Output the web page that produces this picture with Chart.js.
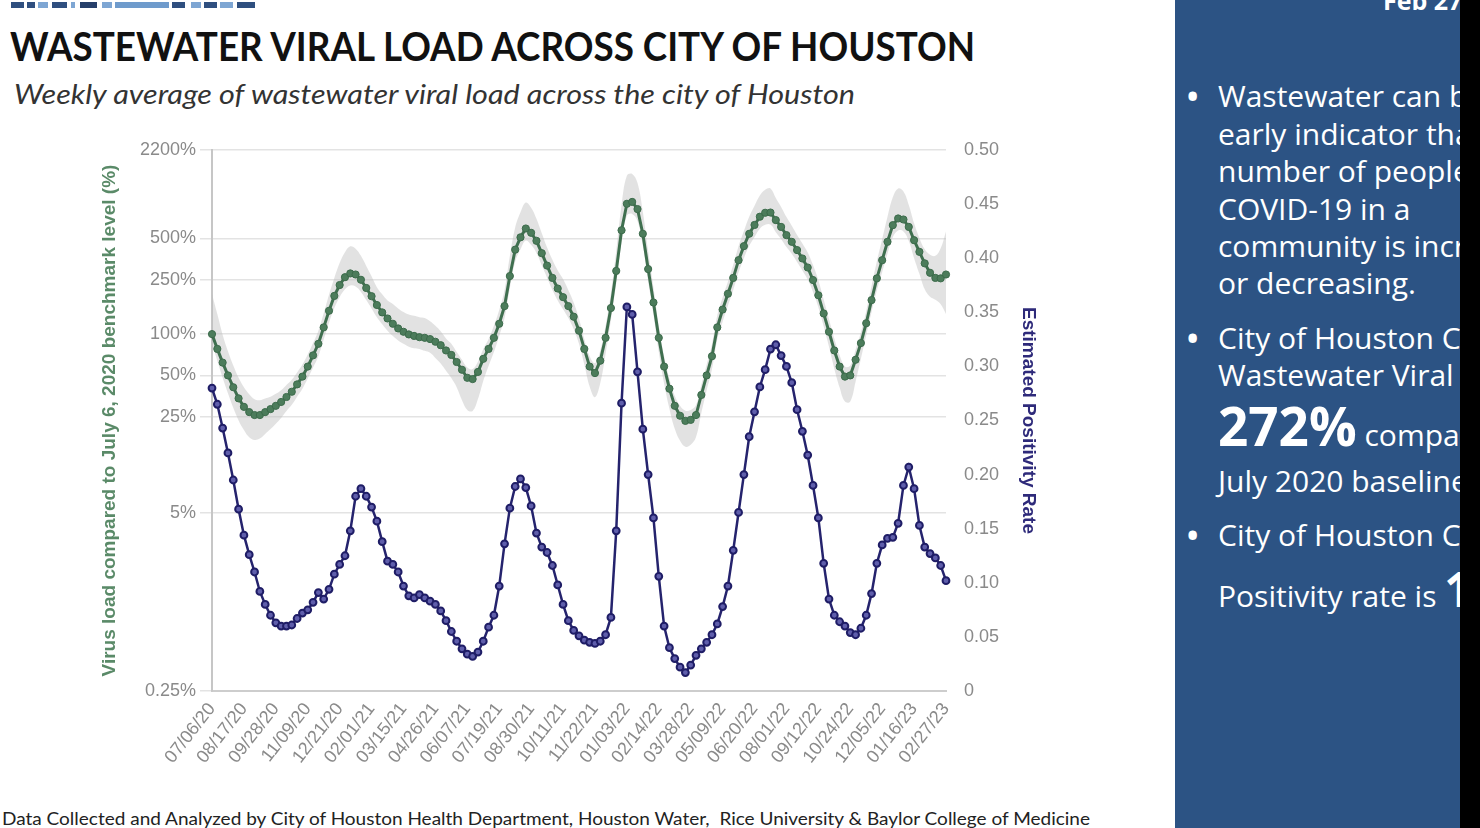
<!DOCTYPE html>
<html><head><meta charset="utf-8">
<script src="https://cdn.jsdelivr.net/npm/chart.js@4.4.1/dist/chart.umd.min.js"></script>
<style>
html,body{margin:0;padding:0;}
body{width:1480px;height:828px;overflow:hidden;background:#fff;position:relative;font-family:Lato,"Noto Sans",sans-serif;}
.t{position:absolute;white-space:nowrap;transform-origin:0 0;}
#title{left:10px;top:26px;font-size:40px;line-height:40px;font-weight:700;color:#111;}
#subtitle{left:14px;top:80px;font-size:27px;line-height:27px;font-style:italic;color:#333;}
#footer{left:2px;top:810px;font-size:17px;line-height:17px;color:#222;}
#chartBox{position:absolute;left:0;top:120px;width:1060px;height:680px;}
#panel{position:absolute;left:1175px;top:0;width:285px;height:828px;background:#2c5384;overflow:hidden;color:#fff;font-family:"Open Sans",Lato,sans-serif;}
#strip{position:absolute;left:1460px;top:0;width:20px;height:828px;background:#000;}
.pl{position:absolute;left:43px;white-space:nowrap;font-size:30px;line-height:30px;}
.bu{position:absolute;left:12px;font-size:30px;line-height:30px;font-weight:700;}
.deco{position:absolute;top:2px;height:6px;}
</style></head>
<body>
<div class="deco" style="left:11px;width:13px;background:#2f4f7f"></div>
<div class="deco" style="left:27px;width:8px;background:#2f4f7f"></div>
<div class="deco" style="left:38px;width:10px;background:#7ea6d3"></div>
<div class="deco" style="left:52px;width:15px;background:#2f4f7f"></div>
<div class="deco" style="left:71px;width:4px;background:#7ea6d3"></div>
<div class="deco" style="left:80px;width:17px;background:#263f6a"></div>
<div class="deco" style="left:102px;width:10px;background:#7ea6d3"></div>
<div class="deco" style="left:115px;width:54px;background:#6f9bcc"></div>
<div class="deco" style="left:172px;width:13px;background:#2f4f7f"></div>
<div class="deco" style="left:191px;width:10px;background:#7ea6d3"></div>
<div class="deco" style="left:204px;width:13px;background:#2f4f7f"></div>
<div class="deco" style="left:220px;width:13px;background:#7ea6d3"></div>
<div class="deco" style="left:237px;width:18px;background:#2f4f7f"></div>

<div id="title" class="t" data-w="965">WASTEWATER VIRAL LOAD ACROSS CITY OF HOUSTON</div>
<div id="subtitle" class="t" data-w="841">Weekly average of wastewater viral load across the city of Houston</div>
<div id="chartBox"><canvas id="c" width="1060" height="680"></canvas></div>
<div id="footer" class="t" data-w="1088">Data Collected and Analyzed by City of Houston Health Department, Houston Water,&nbsp; Rice University &amp; Baylor College of Medicine</div>

<div id="panel">
  <div class="pl" style="left:208px;top:-12px;font-size:25px;line-height:25px;font-weight:700;">Feb 27, 2023</div>
  <div class="bu" style="top:81px">•</div>
  <div class="pl" style="top:81px">Wastewater can be an</div>
  <div class="pl" style="top:119px">early indicator that the</div>
  <div class="pl" style="top:156px">number of people with</div>
  <div class="pl" style="top:194px">COVID-19 in a</div>
  <div class="pl" style="top:231px">community is increasing</div>
  <div class="pl" style="top:268px">or decreasing.</div>
  <div class="bu" style="top:323px">•</div>
  <div class="pl" style="top:323px">City of Houston Citywide</div>
  <div class="pl" style="top:360px">Wastewater Viral Load is</div>
  <div class="pl" style="top:398px;line-height:56px;"><b style="font-size:53px">272%</b> compared to</div>
  <div class="pl" style="top:466px">July 2020 baseline.</div>
  <div class="bu" style="top:520px">•</div>
  <div class="pl" style="top:520px">City of Houston Citywide</div>
  <div class="pl" style="top:563px;line-height:52px;">Positivity rate is <b style="font-size:48px">1</b></div>
</div>
<div id="strip"></div>

<script>
// ---- data ----
const startWeek = '2020-07-06';
const tickLabels = ['07/06/20','08/17/20','09/28/20','11/09/20','12/21/20','02/01/21','03/15/21','04/26/21',
  '06/07/21','07/19/21','08/30/21','10/11/21','11/22/21','01/03/22','02/14/22','03/28/22','05/09/22',
  '06/20/22','08/01/22','09/12/22','10/24/22','12/05/22','01/16/23','02/27/23'];

const leftTicks = [0.25, 5, 25, 50, 100, 250, 500, 2200];
const leftTickLabels = ['0.25%','5%','25%','50%','100%','250%','500%','2200%'];
const rightTicks = [0,0.05,0.1,0.15,0.2,0.25,0.3,0.35,0.4,0.45,0.5];
const rightTickLabels = ['0','0.05','0.10','0.15','0.20','0.25','0.30','0.35','0.40','0.45','0.50'];

// viral load, % of July 6 2020 benchmark
const virusLoad = [
100, 78, 62, 50, 41, 34, 29.5, 27, 25.7, 25.7,
27, 28.4, 30, 32, 34.8, 38, 43, 49, 58, 70,
85, 112, 148, 190, 228, 260, 277, 272, 249, 217,
189, 163, 144, 130, 119, 110, 104, 99.5, 97, 95,
94, 92, 88, 83, 76, 70.5, 62.6, 55, 48, 47,
53, 66, 78, 94, 119, 160, 265, 413, 508, 589,
548, 479, 389, 316, 257, 215, 186, 160, 134, 106,
78, 58, 52, 64, 94, 155, 289, 572, 892, 920,
816, 539, 298, 170, 94, 58, 40, 30, 25.4, 23.3,
23.7, 25.7, 36, 50, 69, 112, 151, 197, 257, 346,
438, 539, 625, 718, 767, 770, 678, 605, 527, 471,
410, 356, 306, 248, 192, 141.5, 104, 76, 58, 49,
50, 65, 86, 120, 177, 255, 346, 471, 623, 697,
685, 605, 484, 398, 328, 280, 257, 255, 272
];
const bandHigh = [
196, 140, 99, 75, 59, 48, 41, 36.5, 33.5, 33,
34, 35, 36.7, 39, 42.6, 46.5, 52.6, 60, 71, 86,
106, 142, 194, 257, 330, 396, 437, 420, 372, 314,
264, 220, 195, 176, 166, 154, 145, 139, 136, 133,
131, 124, 115, 105, 93, 85, 74, 65, 57, 55.6,
63, 78, 92, 115, 150, 209, 371, 598, 773, 911,
834, 693, 544, 428, 348, 291, 252, 209, 170, 130,
92, 69, 61.5, 76, 115, 199, 404, 870, 1426, 1470,
1262, 780, 403, 219, 115, 69, 47.3, 35.5, 30, 27.6,
28, 30.4, 42.6, 60, 84.5, 137, 185, 241, 320, 438,
564, 717, 862, 1025, 1128, 1153, 981, 846, 713, 616,
528, 458, 394, 319, 247, 179, 129, 93, 70, 58,
59, 77, 103, 147, 224, 339, 492, 717, 997, 1153,
1096, 875, 644, 503, 415, 379, 372, 422, 560
];
const bandLow = [
85, 64, 48, 37, 29, 23.5, 20, 17.7, 16.9, 17.3,
18.7, 20.3, 22.2, 24.5, 27.5, 30.5, 35, 40, 47.4, 57,
69, 91.5, 121, 155, 186, 212, 226, 222, 203, 177,
154, 133, 118, 106, 97, 90, 85, 81, 79, 78,
75.5, 73, 67, 61, 54, 47.8, 41, 33, 28, 27.5,
33.6, 45.6, 58.6, 74, 97, 131, 217, 337, 415, 481,
448, 391, 318, 258, 210, 176, 152, 131, 109, 85,
60, 41.5, 34.7, 44, 72, 127, 236, 467, 729, 752,
667, 440, 243, 139, 74, 43.6, 28.6, 20.4, 16.7, 15.1,
15.6, 17.8, 26.6, 39, 55.5, 91.5, 123, 161, 210, 283,
358, 440, 511, 587, 627, 629, 554, 494, 431, 385,
335, 291, 250, 203, 157, 114, 81, 56, 40.8, 32.2,
32.3, 45, 66, 98, 145, 208, 283, 385, 509, 569,
560, 478, 358, 275, 212, 187, 178, 165, 140
];
// estimated positivity rate
const positivity = [
0.28, 0.265, 0.243, 0.22, 0.195, 0.168, 0.144, 0.126, 0.11, 0.092,
0.08, 0.07, 0.063, 0.06, 0.06, 0.061, 0.067, 0.072, 0.075, 0.082,
0.091, 0.085, 0.094, 0.108, 0.117, 0.125, 0.148, 0.18, 0.187, 0.18,
0.17, 0.157, 0.138, 0.12, 0.117, 0.11, 0.097, 0.088, 0.086, 0.089,
0.086, 0.083, 0.08, 0.074, 0.065, 0.055, 0.046, 0.039, 0.034, 0.032,
0.036, 0.046, 0.059, 0.07, 0.097, 0.136, 0.169, 0.189, 0.196, 0.188,
0.171, 0.146, 0.133, 0.128, 0.116, 0.098, 0.08, 0.065, 0.056, 0.051,
0.047, 0.045, 0.044, 0.046, 0.052, 0.068, 0.148, 0.266, 0.355, 0.348,
0.295, 0.242, 0.2, 0.16, 0.106, 0.06, 0.04, 0.03, 0.022, 0.017,
0.024, 0.033, 0.039, 0.045, 0.052, 0.062, 0.078, 0.097, 0.13, 0.165,
0.2, 0.235, 0.258, 0.281, 0.297, 0.316, 0.32, 0.31, 0.3, 0.285,
0.26, 0.24, 0.218, 0.19, 0.16, 0.118, 0.085, 0.07, 0.064, 0.06,
0.054, 0.052, 0.058, 0.07, 0.09, 0.118, 0.135, 0.141, 0.142, 0.155,
0.19, 0.207, 0.187, 0.153, 0.133, 0.127, 0.123, 0.116, 0.102
];

// weekly category labels (MM/DD/YY)
const weeks = [];
{
  const d0 = new Date(startWeek + 'T00:00:00Z');
  for (let i = 0; i < positivity.length; i++) {
    const d = new Date(d0.getTime() + i * 7 * 86400000);
    const mm = String(d.getUTCMonth() + 1).padStart(2, '0');
    const dd = String(d.getUTCDate()).padStart(2, '0');
    const yy = String(d.getUTCFullYear()).slice(2);
    weeks.push(mm + '/' + dd + '/' + yy);
  }
}

const tickFont = {family: '"Liberation Sans", Arial, sans-serif', size: 18};
const titleFont = {family: '"Liberation Sans", Arial, sans-serif', size: 19, weight: 'bold'};

new Chart(document.getElementById('c'), {
  type: 'line',
  data: {
    labels: weeks,
    datasets: [
      {label: 'Upper bound', data: bandHigh, yAxisID: 'yL', borderWidth: 0, pointRadius: 0,
       fill: '+1', backgroundColor: 'rgba(185,185,185,0.42)', borderColor: 'rgba(0,0,0,0)', tension: 0.4, order: 3},
      {label: 'Lower bound', data: bandLow, yAxisID: 'yL', borderWidth: 0, pointRadius: 0,
       fill: false, borderColor: 'rgba(0,0,0,0)', tension: 0.4, order: 4},
      {label: 'Virus load', data: virusLoad, yAxisID: 'yL', borderColor: '#3f6f4f', borderWidth: 3,
       pointRadius: 3.6, pointBackgroundColor: '#4c7c5b', pointBorderColor: '#3b6a4a', pointBorderWidth: 1,
       fill: false, tension: 0, order: 2},
      {label: 'Estimated Positivity Rate', data: positivity, yAxisID: 'yR', borderColor: '#25236d', borderWidth: 2.5,
       pointRadius: 3.4, pointBackgroundColor: '#5f5eab', pointBorderColor: '#1f1d66', pointBorderWidth: 2,
       fill: false, tension: 0, order: 1}
    ]
  },
  options: {
    responsive: false,
    animation: false,
    devicePixelRatio: 1,
    layout: {padding: {left: 94, right: 16, top: 30, bottom: 0}},
    plugins: {legend: {display: false}, tooltip: {enabled: false}},
    scales: {
      x: {
        type: 'category', offset: false,
        grid: {display: false, drawTicks: false},
        border: {display: true, color: '#cdcdcd', width: 2},
        ticks: {
          autoSkip: false, minRotation: 52, maxRotation: 52, padding: 8, color: '#8a8a8a', font: tickFont,
          callback: function (v) { const l = this.getLabelForValue(v); return tickLabels.includes(l) ? l : ''; }
        },
        afterFit: s => { s.height = 109; }
      },
      yL: {
        type: 'logarithmic', position: 'left', min: 0.25, max: 2200,
        afterBuildTicks: s => { s.ticks = leftTicks.map(v => ({value: v})); },
        grid: {color: '#e3e3e3', lineWidth: 1.5, tickLength: 12, drawTicks: true},
        border: {display: true, color: '#c6c6c6', width: 2},
        ticks: {padding: 4, color: '#8a8a8a', font: tickFont,
          callback: (v, i) => leftTickLabels[i]},
        title: {display: true, text: 'Virus load compared to July 6, 2020 benchmark level (%)',
          color: '#5a8a68', font: titleFont},
        afterFit: s => { s.width = 118; }
      },
      yR: {
        type: 'linear', position: 'right', min: 0, max: 0.5,
        afterBuildTicks: s => { s.ticks = rightTicks.map(v => ({value: v})); },
        grid: {display: false, drawTicks: false},
        border: {display: false},
        ticks: {padding: 18, color: '#8a8a8a', font: tickFont,
          callback: (v, i) => rightTickLabels[i]},
        title: {display: true, text: 'Estimated Positivity Rate', color: '#2e2a7a', font: titleFont},
        afterFit: s => { s.width = 98; }
      }
    }
  }
});

function fitTexts() {
  document.querySelectorAll('[data-w]').forEach(el => {
    el.style.transform = 'none';
    const w = el.getBoundingClientRect().width;
    const target = parseFloat(el.getAttribute('data-w'));
    if (w > 0) el.style.transform = 'scaleX(' + (target / w) + ')';
  });
}
fitTexts();
if (document.fonts && document.fonts.ready) document.fonts.ready.then(fitTexts);
</script>
</body></html>
